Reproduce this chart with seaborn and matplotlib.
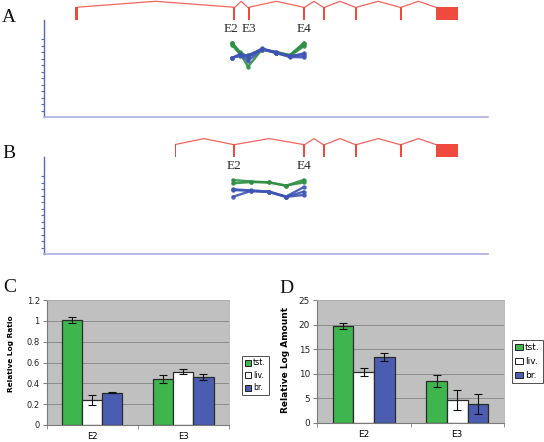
import seaborn as sns
import matplotlib.pyplot as plt
from matplotlib.patches import Patch
import pandas as pd
import numpy as np

# ---- gene models (position along locus, arbitrary units) ----
exon_start_a = [31.5, 189.5, 204, 259.5, 279.5, 311.5, 356, 392]
exon_end_a = [34.5, 191.5, 206, 261.5, 281.5, 313.5, 358, 414]
exon_label_a = ['E2', 'E3', 'E4']
exon_label_x_a = [187, 205.5, 260]

exon_start_b = [131, 189.2, 259.5, 279.5, 311.5, 356, 392]
exon_end_b = [132, 191.8, 261.5, 281.5, 313.5, 358, 414]
exon_label_b = ['E2', 'E4']
exon_label_x_b = [190, 260]

# ---- probe profiles ----
probe_a = [188.5, 196.5, 204.5, 218.5, 232.5, 246.5, 260.5]
tst_a1 = [11.43, 10.0, 9.23, 10.46, 10.0, 9.54, 11.43]
tst_a2 = [11.31, 9.85, 7.74, 10.38, 9.92, 9.46, 11.23]
tst_a3 = [11.08, 9.69, 9.38, 10.46, 9.85, 9.38, 10.92]
br_a1 = [9.03, 9.54, 9.28, 10.54, 9.92, 9.31, 9.8]
br_a2 = [9.08, 9.69, 8.62, 10.46, 9.85, 9.23, 9.18]
br_a3 = [9.15, 9.38, 9.54, 10.38, 10.0, 9.38, 9.54]

probe_b = [189.5, 207.5, 225.5, 242.5, 260]
tst_b1 = [11.43, 11.2, 11.08, 10.55, 11.43]
tst_b2 = [10.92, 11.12, 11.05, 10.58, 11.05]
br_b1 = [10.0, 9.82, 9.66, 8.89, 10.31]
br_b2 = [8.86, 9.74, 9.58, 8.82, 9.63]
br_b3 = [9.89, 9.77, 9.62, 8.85, 9.12]

# ---- bar charts ----
exons = ['E2', 'E3']
tissues = ['tst.', 'liv.', 'br.']
ratio_tst = [1.01, 0.44]
ratio_liv = [0.24, 0.51]
ratio_br = [0.31, 0.46]
ratio_tst_err = [0.03, 0.04]
ratio_liv_err = [0.05, 0.025]
ratio_br_err = [0.005, 0.03]

amount_tst = [19.7, 8.5]
amount_liv = [10.4, 4.6]
amount_br = [13.4, 3.8]
amount_tst_err = [0.7, 1.3]
amount_liv_err = [0.8, 2.1]
amount_br_err = [0.9, 2.1]

red = '#f04a40'
green_line = '#2f8f45'
blue_line = '#3d55b5'
bar_colors = ['#3fb54e', '#ffffff', '#4a5db0']

W, H = 544, 442
fig = plt.figure(figsize=(5.44, 4.42), dpi=100)


def px_axes(x0, y0, x1, y1):
    return fig.add_axes([x0 / W, 1 - y1 / H, (x1 - x0) / W, (y1 - y0) / H])


def gene_panel(ax, starts, ends, labels, label_x, profiles, probes):
    top, bot, peak = 16.9, 14.9, 17.8
    for i in range(len(starts) - 1):
        a, b = ends[i], starts[i + 1]
        ax.plot([a, (a + b) / 2, b], [top, peak, top], color=red, lw=0.9,
                alpha=0.85, clip_on=False)
    mids = [(s + e) / 2 for s, e in zip(starts, ends)]
    widths = [e - s for s, e in zip(starts, ends)]
    ax.bar(mids, top - bot, width=widths, bottom=bot, color=red, lw=0, clip_on=False)
    for lab, x in zip(labels, label_x):
        ax.text(x, 13.05, lab, ha='center', va='baseline', fontsize=9.5,
                family='Liberation Serif', color='#2a2a2a')
    rows = []
    for k, (tissue, vals) in enumerate(profiles):
        for p, v in zip(probes, vals):
            rows.append({'pos': p, 'value': v, 'tissue': tissue, 'rep': k})
    df = pd.DataFrame(rows)
    sns.lineplot(data=df, x='pos', y='value', hue='tissue', units='rep',
                 estimator=None, sort=False, palette={'tst': green_line, 'br': blue_line},
                 marker='o', markersize=3.2, markeredgewidth=0, lw=1.7, alpha=0.9,
                 legend=False, ax=ax)
    ax.set_xlim(0, 444.5)
    ax.set_ylim(0, 18)
    ax.set_xlabel('')
    ax.set_ylabel('')
    ax.set_facecolor('none')
    for s in ['top', 'right']:
        ax.spines[s].set_visible(False)
    ax.spines['left'].set_color('#5566c4')
    ax.spines['left'].set_bounds(0, 14.9)
    ax.spines['bottom'].set_color('#a9b1de')
    ax.spines['left'].set_linewidth(1.0)
    ax.spines['bottom'].set_linewidth(1.2)
    ax.set_yticks(range(1, 13))
    ax.set_yticklabels([])
    ax.tick_params(axis='y', length=2.5, width=0.8, color='#5566c4')
    ax.set_xticks([])


ax_a = px_axes(43.5, 0, 488, 117)
gene_panel(ax_a, exon_start_a, exon_end_a, exon_label_a, exon_label_x_a,
           [('tst', tst_a1), ('tst', tst_a2), ('tst', tst_a3),
            ('br', br_a1), ('br', br_a2), ('br', br_a3)], probe_a)

ax_b = px_axes(43.5, 137.3, 488, 254.3)
gene_panel(ax_b, exon_start_b, exon_end_b, exon_label_b, exon_label_x_b,
           [('tst', tst_b1), ('tst', tst_b2),
            ('br', br_b1), ('br', br_b2), ('br', br_b3)], probe_b)


def bar_panel(ax, vals, errs, ylim, step, ylabel, lab_xy, tick_fs, lab_fs, pad,
              leg_anchor, leg_fs, leg_spacing):
    df = pd.DataFrame({'exon': exons * 3,
                       'tissue': np.repeat(tissues, 2),
                       'value': vals[0] + vals[1] + vals[2]})
    ax.set_facecolor('#c0c0c0')
    ax.set_axisbelow(True)
    sns.barplot(data=df, x='exon', y='value', hue='tissue', hue_order=tissues,
                palette=bar_colors, saturation=1, width=0.66, errorbar=None,
                edgecolor='#2b2b2b', linewidth=0.9, legend=False, ax=ax)
    for cont, err in zip(ax.containers, errs):
        xs = [p.get_x() + p.get_width() / 2 for p in cont]
        hs = [p.get_height() for p in cont]
        ax.errorbar(xs, hs, yerr=err, fmt='none', ecolor='#111111',
                    elinewidth=0.8, capsize=3, capthick=0.8)
    ax.set_xlim(-0.5, 1.5)
    ax.set_ylim(0, ylim)
    ax.set_yticks(np.arange(0, ylim + step / 2, step))
    ax.set_yticklabels(['%g' % round(v, 2) for v in np.arange(0, ylim + step / 2, step)])
    ax.yaxis.grid(True, color='#8c8c8c', lw=0.7)
    ax.xaxis.grid(False)
    ax.set_xticks([-0.5, 0.5, 1.5], minor=True)
    ax.tick_params(axis='x', which='major', length=0, labelsize=tick_fs, pad=pad)
    ax.tick_params(axis='x', which='minor', length=3, color='#808080')
    ax.tick_params(axis='y', length=3, color='#808080', labelsize=tick_fs, pad=2,
                   labelcolor='#222222')
    ax.set_xlabel('')
    ax.set_ylabel(ylabel, fontsize=lab_fs, fontweight='bold')
    ax.yaxis.set_label_coords(*lab_xy)
    for s in ['left', 'bottom']:
        ax.spines[s].set_color('#7a7a7a')
        ax.spines[s].set_linewidth(0.8)
    for s in ['top', 'right']:
        ax.spines[s].set_color('#b0b0b0')
        ax.spines[s].set_linewidth(0.6)
    handles = [Patch(facecolor=c, edgecolor='#222222', lw=0.7) for c in bar_colors]
    leg = ax.legend(handles, tissues, loc='upper left', bbox_to_anchor=leg_anchor,
                    bbox_transform=fig.transFigure, fontsize=leg_fs, frameon=True,
                    fancybox=False, edgecolor='black', borderaxespad=0, borderpad=0.35,
                    handlelength=0.8, handleheight=0.8, handletextpad=0.25,
                    labelspacing=leg_spacing)
    leg.get_frame().set_linewidth(0.6)


ax_c = px_axes(46.7, 300, 229, 425)
bar_panel(ax_c, [ratio_tst, ratio_liv, ratio_br],
          [ratio_tst_err, ratio_liv_err, ratio_br_err], 1.2, 0.2,
          'Relative Log Ratio', (-0.177, 0.568), 6.0, 5.3, 5,
          (242.3 / W, 1 - 355.7 / H), 5.6, 0.45)

ax_d = px_axes(317, 300, 504, 422.7)
bar_panel(ax_d, [amount_tst, amount_liv, amount_br],
          [amount_tst_err, amount_liv_err, amount_br_err], 25, 5,
          'Relative Log Amount', (-0.147, 0.51), 6.4, 6.5, 5,
          (512.3 / W, 1 - 340 / H), 6.5, 0.55)

for lab, x, y in [('A', 9, 17), ('B', 8.5, 154), ('C', 10, 288), ('D', 286.5, 288.5)]:
    fig.text(x / W, 1 - y / H, lab, ha='center', va='center', fontsize=14,
             family='Liberation Serif', color='#111111')

fig.savefig('out.png', dpi=100)
